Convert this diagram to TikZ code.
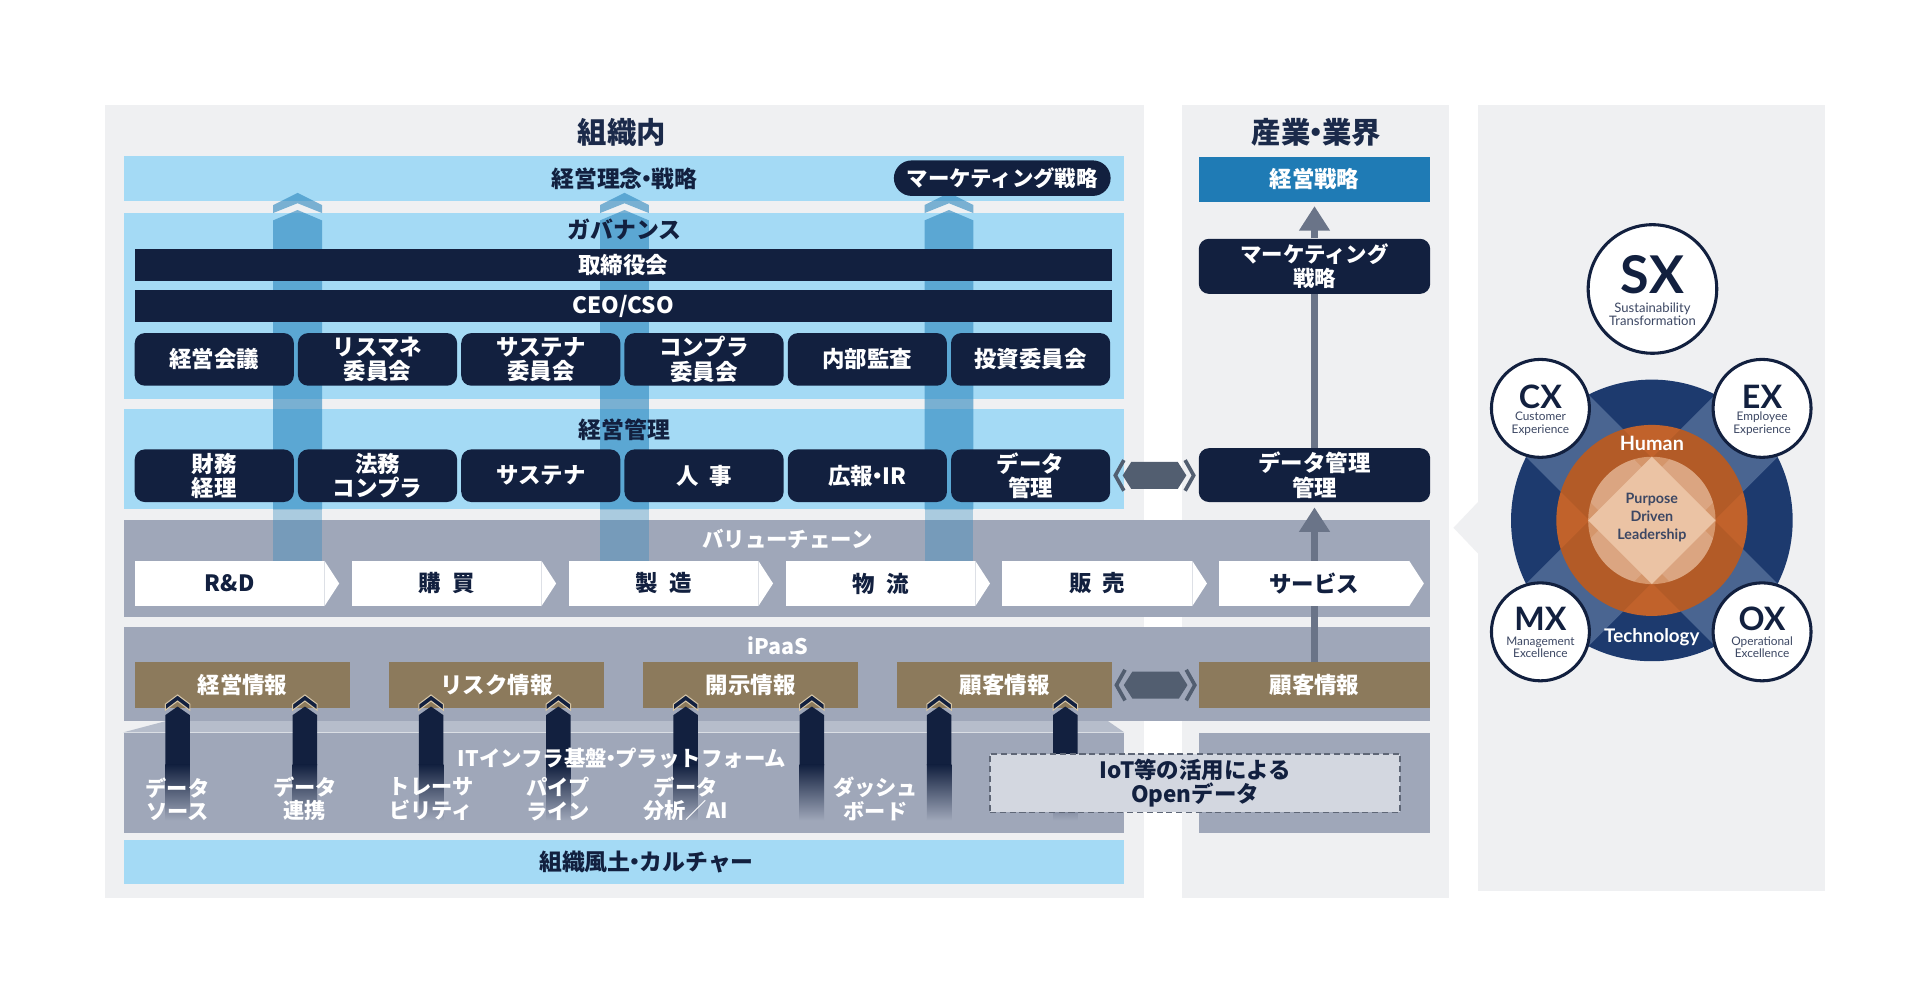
\documentclass[tikz,border=0pt]{standalone}
\usepackage{fontspec}
\setmainfont{Noto Sans CJK JP}
\newfontfamily\latofont{Lato}
\usepackage{xcolor}
\usetikzlibrary{arrows.meta, calc}

\definecolor{panelgray}{HTML}{EFF0F2}
\definecolor{lightblue}{HTML}{A4DAF5}
\definecolor{navy}{HTML}{12203F}
\definecolor{titlenavy}{HTML}{1B2A4A}
\definecolor{colblue}{HTML}{2B86BD}
\definecolor{bandgray}{HTML}{9FA7B9}
\definecolor{stripgray}{HTML}{B6BDCB}
\definecolor{infobrown}{HTML}{8C7A5C}
\definecolor{captan}{HTML}{D6C6A8}
\definecolor{stratblue}{HTML}{1F7BB5}
\definecolor{linkgray}{HTML}{525E70}
\definecolor{arrowgray}{HTML}{6A7488}
\definecolor{iotfill}{HTML}{D3D7E0}
\definecolor{dashgray}{HTML}{5E6676}
\definecolor{circnavy}{HTML}{1D3A6E}
\definecolor{xband}{HTML}{4A6591}
\definecolor{ringorange}{HTML}{C1622B}
\definecolor{innerorange}{HTML}{D5966B}
\definecolor{diamondpeach}{HTML}{EBC3A4}
\definecolor{subnavy}{HTML}{3C4763}

% narrow middle dot
\newcommand{\nkg}{\hspace{-0.3em}・\hspace{-0.3em}}

% double-headed hexagon link between two nodes
\newcommand{\hexlink}[2]{%
  \path (#1.east) -- (#2.west) coordinate[pos=0.5] (hexmid);
  \fill[linkgray] ($(hexmid)+(-26,0)$) -- ($(hexmid)+(-19,-11)$) -- ($(hexmid)+(19,-11)$)
    -- ($(hexmid)+(26,0)$) -- ($(hexmid)+(19,11)$) -- ($(hexmid)+(-19,11)$) -- cycle;
  \draw[linkgray, line width=1.8pt] ($(hexmid)+(-25,-12.5)$) -- ($(hexmid)+(-32,0)$) -- ($(hexmid)+(-25,12.5)$);
  \draw[linkgray, line width=1.8pt] ($(hexmid)+(25,-12.5)$) -- ($(hexmid)+(32,0)$) -- ($(hexmid)+(25,12.5)$);
}

\begin{document}
\begin{tikzpicture}[x=0.6pt, y=-0.6pt, node distance=80pt]
        % Block styles
        \tikzstyle{pill} = [rectangle, rounded corners=5pt, fill=navy, text=white, align=center,
                            minimum width=78pt, minimum height=25.8pt, inner sep=0pt,
                            font=\bfseries\fontsize{11}{12}\selectfont]
        \tikzstyle{bar} = [rectangle, fill=navy, text=white, minimum width=478.8pt,
                           minimum height=16pt, inner sep=0pt, font=\bfseries\fontsize{11}{12}\selectfont]
        \tikzstyle{chain} = [rectangle, fill=white, text=navy, minimum width=93pt, minimum height=22.2pt,
                             inner sep=0pt, outer sep=0pt, font=\bfseries\fontsize{11}{12}\selectfont]
        \tikzstyle{info} = [rectangle, fill=infobrown, text=white, minimum width=105.6pt,
                            minimum height=22.2pt, inner sep=0pt, font=\bfseries\fontsize{11}{12}\selectfont]
        \tikzstyle{paneltitle} = [text=titlenavy, font=\bfseries\fontsize{14.4}{16}\selectfont]
        \tikzstyle{bandtitle} = [text=navy, font=\bfseries\fontsize{11.2}{12}\selectfont]
        \tikzstyle{graytitle} = [text=white, font=\bfseries\fontsize{10.5}{12}\selectfont]
        \tikzstyle{itlabel} = [text=white, align=center, font=\bfseries\fontsize{10.4}{11.4}\selectfont]
        \tikzstyle{arrow} = [line width=3pt, draw=arrowgray, -{Triangle[length=12pt, width=14.4pt]}]
        \tikzstyle{xcirc} = [circle, draw=navy, line width=1.5pt, fill=white, minimum size=48pt, inner sep=0pt]
        \tikzstyle{xname} = [text=navy, inner sep=0pt, font=\latofont\bfseries\fontsize{15.8}{16}\selectfont]
        \tikzstyle{xsub} = [text=subnavy, inner sep=0pt, align=center, font=\latofont\fontsize{5.8}{6}\selectfont]

        \fill[white] (0,0) rectangle (1568,814);
        \useasboundingbox (0,0) rectangle (1568,814);

        % Panels
        \fill[panelgray] (86,86) rectangle (934,733);
        \fill[panelgray] (965,86) rectangle (1183,733);
        \fill[panelgray] (1207,86) rectangle (1490,728);
        \fill[panelgray] (1207,410) -- (1187,431) -- (1207,452) -- cycle;
        \node (inside) [paneltitle] at (508,108) {組織内};
        \node (industry) [paneltitle] at (1075,108) {産業\nkg 業界};

        % Bands
        \fill[lightblue] (101,127) rectangle (918,164);
        \fill[lightblue] (101,174) rectangle (918,326);
        \fill[lightblue] (101,334) rectangle (918,416);
        \fill[bandgray] (101,425) rectangle (1168,504);
        \fill[bandgray] (101,512) rectangle (1168,589);
        \fill[stripgray] (101,598) -- (135,589) -- (905,589) -- (918,598) -- cycle;
        \fill[bandgray] (101,599) rectangle (918,680);
        \fill[bandgray] (979,599) rectangle (1168,680);
        \fill[lightblue] (101,686) rectangle (918,722);

        % Rising columns
        \foreach \cx in {243,510,775} {
          \fill[colblue, opacity=0.6] (\cx-20,167.5) -- (\cx,157.5) -- (\cx+20,167.5) -- (\cx+20,174)
            -- (\cx,166) -- (\cx-20,174) -- cycle;
          \fill[colblue, opacity=0.6] (\cx-20,416) -- (\cx-20,180) -- (\cx,171.5) -- (\cx+20,180)
            -- (\cx+20,416) -- cycle;
          \fill[colblue, opacity=0.35] (\cx-20,416) rectangle (\cx+20,458);
        }

        % Band titles
        \node (vision) [bandtitle] at (510,146) {経営理念\nkg 戦略};
        \node (gov) [bandtitle] at (510,187) {ガバナンス};
        \node (mgmt) [bandtitle] at (510,351) {経営管理};
        \node (valuechain) [graytitle] at (643,440) {バリューチェーン};
        \node (ipaas) [graytitle] at (635,527) {iPaaS};
        \node (culture) [bandtitle] at (528,704) {組織風土\nkg カルチャー};

        \node (mktstrat) [pill, rounded corners=8.7pt, minimum width=106.2pt, minimum height=17.4pt,
                          font=\bfseries\fontsize{10.5}{12}\selectfont] at (818.5,145.5) {マーケティング戦略};

        % Governance
        \node (board) [bar] at (509,216.5) {取締役会};
        \node (ceo) [bar] at (509,250) {CEO/CSO};
        \node (mtg) [pill] at (175,293.5) {経営会議};
        \node (riskc) [pill, right of=mtg] {リスマネ\\委員会};
        \node (susc) [pill, right of=riskc] {サステナ\\委員会};
        \node (compc) [pill, right of=susc] {コンプラ\\委員会};
        \node (audit) [pill, right of=compc] {内部監査};
        \node (invest) [pill, right of=audit] {投資委員会};

        % Management
        \node (fin) [pill] at (175,388.5) {財務\\経理};
        \node (legal) [pill, right of=fin] {法務\\コンプラ};
        \node (sus) [pill, right of=legal] {サステナ};
        \node (hr) [pill, right of=sus] {人\hspace{0.5em}事};
        \node (pr) [pill, right of=hr] {広報\nkg IR};
        \node (dm) [pill, right of=pr] {データ\\管理};

        % Industry side
        \node (strategy) [rectangle, fill=stratblue, text=white, minimum width=113.4pt, minimum height=22.2pt,
                          inner sep=0pt, font=\bfseries\fontsize{11}{12}\selectfont] at (1073.5,146.5) {経営戦略};
        \node (mkt2) [pill, minimum width=113.4pt, minimum height=27pt,
                      font=\bfseries\fontsize{10.5}{12}\selectfont] at (1073.5,217.5) {マーケティング\\戦略};
        \node (dmm) [pill, minimum width=113.4pt, minimum height=26.4pt] at (1073.5,388) {データ管理\\管理};
        \node (custinfo2) [info, minimum width=113.4pt] at (1073.5,559.5) {顧客情報};

        \draw [arrow, shorten >=1.8pt] (mkt2.north) -- (strategy.south);
        \draw [line width=3pt, arrowgray] (dmm.north) -- (mkt2.south);
        \draw [arrow, shorten >=2.4pt] (custinfo2.north) -- (dmm.south);

        % Value chain
        \node (rd) [chain] at (187.5,476.5) {R\&D};
        \node (buy) [chain, right of=rd, node distance=106.3pt] {購\hspace{0.5em}買};
        \node (make) [chain, right of=buy, node distance=106.3pt] {製\hspace{0.5em}造};
        \node (logi) [chain, right of=make, node distance=106.3pt] {物\hspace{0.5em}流};
        \node (sales) [chain, right of=logi, node distance=106.3pt] {販\hspace{0.5em}売};
        \node (service) [chain, right of=sales, node distance=106.3pt] {サービス};
        \foreach \n in {rd,buy,make,logi,sales,service}
          \fill[white] (\n.north east) -- ++(12,18.5) -- (\n.south east) -- cycle;

        % Information
        \node (mgmtinfo) [info] at (198,559.5) {経営情報};
        \node (riskinfo) [info, right of=mgmtinfo, node distance=124.5pt] {リスク情報};
        \node (discinfo) [info, right of=riskinfo, node distance=124.5pt] {開示情報};
        \node (custinfo) [info, right of=discinfo, node distance=124.5pt] {顧客情報};

        % Rising data arrows
        \foreach \ax in {145,249,352,456,560,663,767,870} {
          \fill[navy] (\ax-10,625) -- (\ax-10,584) -- (\ax,577) -- (\ax+10,584) -- (\ax+10,625) -- cycle;
          \shade[top color=navy, bottom color=bandgray] (\ax-10,624.5) rectangle (\ax+10,670);
          \filldraw[fill=navy, draw=captan, line width=0.5pt] (\ax-10,575) -- (\ax,567.5) -- (\ax+10,575)
            -- (\ax+10,580) -- (\ax,572.5) -- (\ax-10,580) -- cycle;
        }

        % Platform items
        \node (itbase) [graytitle] at (508,619) {ITインフラ基盤\nkg プラットフォーム};
        \node (source) [itlabel] at (145,652.5) {データ\\ソース};
        \node (linkage) [itlabel] at (249,652.5) {データ\\連携};
        \node (trace) [itlabel] at (352,652.5) {トレーサ\\ビリティ};
        \node (pipe) [itlabel] at (456,652.5) {パイプ\\ライン};
        \node (analysis) [itlabel] at (560,652.5) {データ\\分析／AI};
        \node (dash) [itlabel] at (715,652.5) {ダッシュ\\ボード};

        \node (iot) [rectangle, draw=dashgray, dash pattern=on 3pt off 1.8pt, line width=0.9pt, fill=iotfill,
                     text=navy, align=center, minimum width=201pt, minimum height=28.8pt, inner sep=0pt,
                     font=\bfseries\fontsize{11}{11.4}\selectfont] at (976,639.5) {IoT等の活用による\\Openデータ};

        % Links
        \hexlink{dm}{dmm}
        \hexlink{custinfo}{custinfo2}

        % Transformation circle
        \fill[circnavy] (1349,425) circle[radius=69pt];
        \begin{scope}
          \clip (1349,425) circle[radius=69pt];
          \fill[xband, rotate around={45:(1349,425)}] (1149,389) rectangle (1549,461);
          \fill[xband, rotate around={-45:(1349,425)}] (1149,389) rectangle (1549,461);
        \end{scope}
        \fill[ringorange] (1349,425) circle[radius=46.8pt];
        \begin{scope}
          \clip (1349,425) circle[radius=46.8pt];
          \fill[black, opacity=0.07, rotate around={45:(1349,425)}] (1149,389) rectangle (1549,461);
          \fill[black, opacity=0.07, rotate around={-45:(1349,425)}] (1149,389) rectangle (1549,461);
        \end{scope}
        \fill[innerorange] (1349,425) circle[radius=31.2pt];
        \begin{scope}
          \clip (1349,425) circle[radius=31.2pt];
          \fill[white, opacity=0.15, rotate around={45:(1349,425)}] (1149,400) rectangle (1549,450);
          \fill[white, opacity=0.15, rotate around={-45:(1349,425)}] (1149,400) rectangle (1549,450);
        \end{scope}
        \fill[diamondpeach] (1349,373) -- (1401,425) -- (1349,477) -- (1297,425) -- cycle;
        \node (human) [text=white, font=\latofont\bfseries\fontsize{9.7}{10}\selectfont] at (1349,362) {Human};
        \node (tech) [text=white, font=\latofont\bfseries\fontsize{9.2}{10}\selectfont] at (1349,520) {Technology};
        \node (purpose) [text=subnavy, align=center, font=\latofont\bfseries\fontsize{7}{8.7}\selectfont]
              at (1349,422.5) {Purpose\\Driven\\Leadership};

        \node (sx) [xcirc, minimum size=63pt] at (1349.5,236) {};
        \node (sxname) [xname, font=\latofont\bfseries\fontsize{25.5}{26}\selectfont] at (1349.5,224) {SX};
        \node (sxsub) [xsub, font=\latofont\fontsize{6.4}{6.6}\selectfont] at (1349.5,256.5) {Sustainability\\Transformation};

        \node (cx) [xcirc] at (1258,333.5) {};
        \node (cxname) [xname] at (1258,324) {CX};
        \node (cxsub) [xsub] at (1258,346) {Customer\\Experience};
        \node (ex) [xcirc] at (1439,333.5) {};
        \node (exname) [xname] at (1439,324) {EX};
        \node (exsub) [xsub] at (1439,346) {Employee\\Experience};
        \node (mx) [xcirc] at (1258,516) {};
        \node (mxname) [xname] at (1258,505) {MX};
        \node (mxsub) [xsub] at (1258,528.5) {Management\\Excellence};
        \node (ox) [xcirc] at (1439,516) {};
        \node (oxname) [xname] at (1439,505) {OX};
        \node (oxsub) [xsub] at (1439,528.5) {Operational\\Excellence};
\end{tikzpicture}
\end{document}
